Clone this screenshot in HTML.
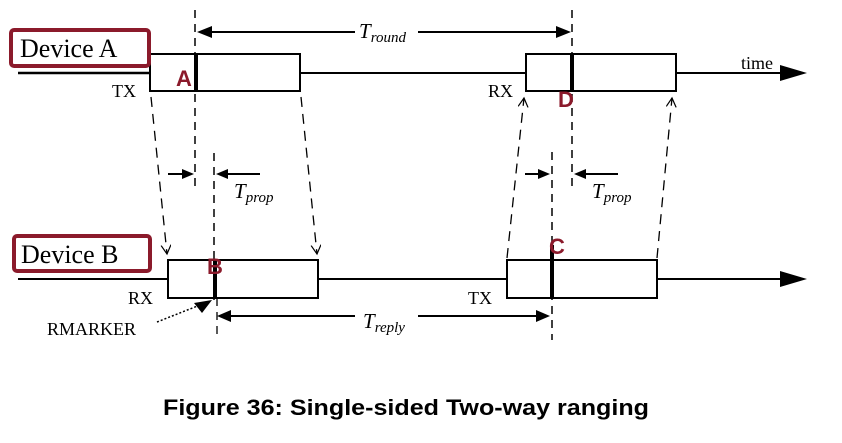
<!DOCTYPE html>
<html><head><meta charset="utf-8"><style>
body{margin:0;background:#fff}
svg text{font-family:"Liberation Serif",serif}
svg text.sans{font-family:"Liberation Sans",sans-serif;font-weight:bold}
</style></head><body>
<svg width="842" height="438" viewBox="0 0 842 438" xmlns="http://www.w3.org/2000/svg">
<defs>
<marker id="oa" markerWidth="12" markerHeight="12" refX="9" refY="5" orient="auto" markerUnits="userSpaceOnUse"><path d="M0,0 L9,5 L0,10" fill="none" stroke="#000" stroke-width="1.2"/></marker>
</defs>
<g stroke="#000" fill="none">
<line x1="18" y1="73" x2="150" y2="73" stroke-width="2.5"/>
<line x1="300" y1="73" x2="526" y2="73" stroke-width="2"/>
<line x1="676" y1="73" x2="785" y2="73" stroke-width="2"/>
<path d="M780,65 L807,73 L780,81 z" fill="#000" stroke="none"/>
<rect x="150" y="54" width="150" height="37" stroke-width="2" fill="#fff"/>
<rect x="526" y="54" width="150" height="37" stroke-width="2" fill="#fff"/>
<line x1="196" y1="54" x2="196" y2="91" stroke-width="4"/>
<line x1="572" y1="54" x2="572" y2="91" stroke-width="4"/>
<line x1="195" y1="10" x2="195" y2="190" stroke-width="1.5" stroke-dasharray="8,6"/>
<line x1="572" y1="10" x2="572" y2="190" stroke-width="1.5" stroke-dasharray="8,6"/>
<line x1="205" y1="32" x2="355" y2="32" stroke-width="2"/>
<path d="M197,32 L212,26 L212,38 z" fill="#000" stroke="none"/>
<line x1="418" y1="32" x2="560" y2="32" stroke-width="2"/>
<path d="M571,32 L556,26 L556,38 z" fill="#000" stroke="none"/>
<line x1="214" y1="153" x2="214" y2="300" stroke-width="1.5" stroke-dasharray="8,6"/>
<line x1="552" y1="152" x2="552" y2="340" stroke-width="1.5" stroke-dasharray="8,6"/>
<line x1="168" y1="174" x2="185" y2="174" stroke-width="2"/><path d="M194,174 L182,169 L182,179 z" fill="#000" stroke="none"/>
<line x1="228" y1="174" x2="260" y2="174" stroke-width="2"/><path d="M216,174 L228,169 L228,179 z" fill="#000" stroke="none"/>
<line x1="525" y1="174" x2="540" y2="174" stroke-width="2"/><path d="M550,174 L538,169 L538,179 z" fill="#000" stroke="none"/>
<line x1="586" y1="174" x2="618" y2="174" stroke-width="2"/><path d="M574,174 L586,169 L586,179 z" fill="#000" stroke="none"/>
<line x1="151" y1="97" x2="167" y2="254" stroke-width="1.3" stroke-dasharray="10,7" marker-end="url(#oa)"/>
<line x1="301" y1="97" x2="317" y2="254" stroke-width="1.3" stroke-dasharray="10,7" marker-end="url(#oa)"/>
<line x1="507" y1="258" x2="524" y2="98" stroke-width="1.3" stroke-dasharray="10,7" marker-end="url(#oa)"/>
<line x1="657" y1="258" x2="672" y2="98" stroke-width="1.3" stroke-dasharray="10,7" marker-end="url(#oa)"/>
<line x1="18" y1="279" x2="168" y2="279" stroke-width="2"/>
<line x1="318" y1="279" x2="507" y2="279" stroke-width="2"/>
<line x1="657" y1="279" x2="785" y2="279" stroke-width="2"/>
<path d="M780,271 L807,279 L780,287 z" fill="#000" stroke="none"/>
<rect x="168" y="260" width="150" height="38" stroke-width="2" fill="#fff"/>
<rect x="507" y="260" width="150" height="38" stroke-width="2" fill="#fff"/>
<line x1="215" y1="260" x2="215" y2="298" stroke-width="4"/>
<line x1="552" y1="245" x2="552" y2="298" stroke-width="4"/>
<line x1="217" y1="298" x2="217" y2="340" stroke-width="1.3" stroke-dasharray="8,6"/>
<line x1="228" y1="316" x2="355" y2="316" stroke-width="2"/><path d="M217,316 L231,310 L231,322 z" fill="#000" stroke="none"/>
<line x1="418" y1="316" x2="538" y2="316" stroke-width="2"/><path d="M550,316 L536,310 L536,322 z" fill="#000" stroke="none"/>
<line x1="157" y1="322" x2="200" y2="305" stroke-width="1.5" stroke-dasharray="2,2"/>
<path d="M212,300 L194,303 L202,313 z" fill="#000" stroke="none"/>
<rect x="11" y="30" width="138" height="36" rx="3" stroke="#8b1a2b" stroke-width="4" fill="#fff"/>
<rect x="14" y="236" width="136" height="35" rx="3" stroke="#8b1a2b" stroke-width="4" fill="#fff"/>
</g>
<text x="20" y="57" font-size="26">Device A</text>
<text x="21" y="263" font-size="26">Device B</text>
<text x="112" y="97" font-size="18">TX</text>
<text x="488" y="97" font-size="18">RX</text>
<text x="128" y="304" font-size="18">RX</text>
<text x="468" y="304" font-size="18">TX</text>
<text x="47" y="335" font-size="18">RMARKER</text>
<text x="741" y="69" font-size="18">time</text>
<text x="359" y="38" font-size="21" font-style="italic">T<tspan font-size="15" dy="4">round</tspan></text>
<text x="234" y="198" font-size="21" font-style="italic">T<tspan font-size="15" dy="4">prop</tspan></text>
<text x="592" y="198" font-size="21" font-style="italic">T<tspan font-size="15" dy="4">prop</tspan></text>
<text x="363" y="328" font-size="21" font-style="italic">T<tspan font-size="15" dy="4">reply</tspan></text>
<text class="sans" x="176" y="86" font-size="22" fill="#8b1a2b">A</text>
<text class="sans" x="558" y="107" font-size="22" fill="#8b1a2b">D</text>
<text class="sans" x="207" y="274" font-size="22" fill="#8b1a2b">B</text>
<text class="sans" x="549" y="254" font-size="22" fill="#8b1a2b">C</text>
<text class="sans" x="406" y="415" font-size="22" text-anchor="middle" textLength="486" lengthAdjust="spacingAndGlyphs">Figure 36: Single-sided Two-way ranging</text>
</svg>
</body></html>
